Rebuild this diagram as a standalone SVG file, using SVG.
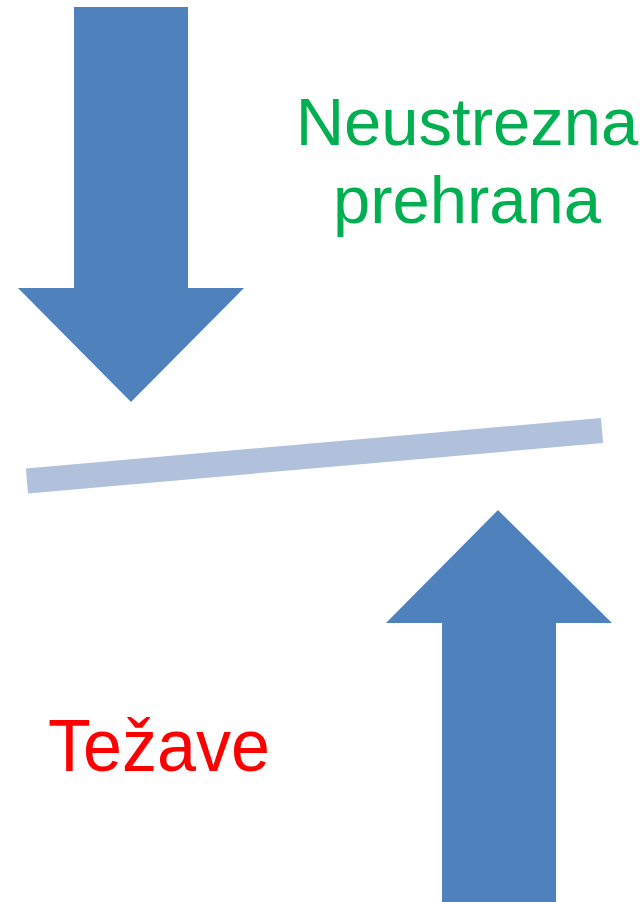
<svg xmlns="http://www.w3.org/2000/svg" width="642" height="902" viewBox="0 0 642 902">
  <style>
    .arrow { fill: #4f81bd; }
    .lbl { font-family: "Liberation Sans", Arial, sans-serif; }
  </style>
  <rect width="642" height="902" fill="#ffffff"/>
  <g id="connectors">
    <g id="arrow-down">
      <polygon class="arrow" points="74,7 188,7 188,288 244,288 131,402 18,288 74,288"/>
    </g>
    <g id="arrow-up">
      <polygon class="arrow" points="498,510 612,623 556,623 556,902 442,902 442,623 386,623"/>
    </g>
  </g>
  <g id="bar">
    <line x1="27" y1="481" x2="602" y2="430.5" stroke="#b1c1dc" stroke-width="25"/>
  </g>
  <g id="label-neustrezna">
    <text class="lbl" x="467" y="145" font-size="67" fill="#00b050" text-anchor="middle">Neustrezna</text>
    <text class="lbl" x="467" y="223" font-size="67" fill="#00b050" text-anchor="middle">prehrana</text>
  </g>
  <g id="label-tezave">
    <text class="lbl" x="48" y="771" font-size="74" fill="#ff0000" textLength="222" lengthAdjust="spacingAndGlyphs">Težave</text>
  </g>
</svg>
